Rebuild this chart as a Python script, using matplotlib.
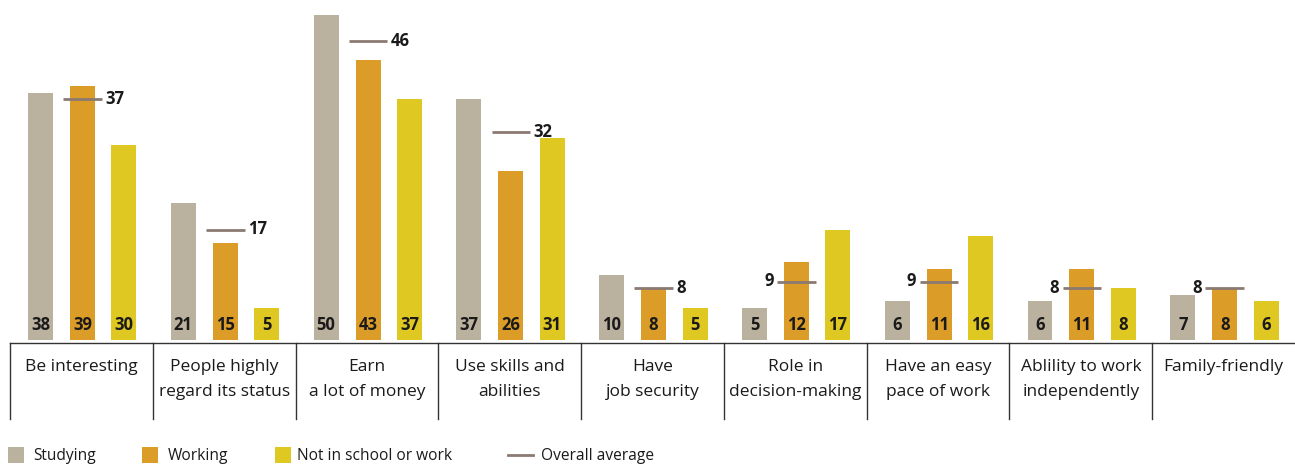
import matplotlib.pyplot as plt
from matplotlib.patches import Rectangle
from matplotlib.lines import Line2D

plt.rcParams["font.family"] = ["Open Sans", "DejaVu Sans"]

categories = [
    "Be interesting",
    "People highly\nregard its status",
    "Earn\na lot of money",
    "Use skills and\nabilities",
    "Have\njob security",
    "Role in\ndecision-making",
    "Have an easy\npace of work",
    "Ablility to work\nindependently",
    "Family-friendly",
]
studying = [38, 21, 50, 37, 10, 5, 6, 6, 7]
working = [39, 15, 43, 26, 8, 12, 11, 11, 8]
not_in_school = [30, 5, 37, 31, 5, 17, 16, 8, 6]
overall = [37, 17, 46, 32, 8, 9, 9, 8, 8]

series = [
    ("Studying", studying, "#bbb19f", -0.286),
    ("Working", working, "#dc9c28", 0.008),
    ("Not in school or work", not_in_school, "#dfc821", 0.298),
]
AVG_COLOR = "#8b7a72"
TEXT = "#1a1a1a"

W, H = 1295, 466
fig = plt.figure(figsize=(W / 100, H / 100), dpi=100)

# bar area: baseline at y=340 px, 6.5 px per unit
ax = fig.add_axes([10 / W, (H - 340) / H, (W - 10) / W, 340 / H])
ax.set_xlim(0, len(categories))
ax.set_ylim(0, 340 / 6.5)
ax.axis("off")

bw = 0.175
for name, vals, color, off in series:
    for i, v in enumerate(vals):
        x = i + 0.5 + off
        ax.bar(x, v, width=bw, color=color, linewidth=0)
        ax.annotate(str(v), (x, 0), xytext=(0, 7.5), textcoords="offset points",
                    ha="center", va="baseline", fontsize=12, fontweight="bold",
                    color=TEXT)

# overall average markers
half = 0.135
for i, v in enumerate(overall):
    xc = i + 0.5 + 0.008
    ax.plot([xc - half, xc + half], [v, v], color=AVG_COLOR, lw=2.0,
            solid_capstyle="butt")
    if i < 5:
        ax.annotate(str(v), (xc + half, v), xytext=(2.5, 0), textcoords="offset points",
                    ha="left", va="center", fontsize=12, fontweight="bold", color=TEXT)
    else:
        ax.annotate(str(v), (xc - half, v), xytext=(-2.5, 0), textcoords="offset points",
                    ha="right", va="center", fontsize=12, fontweight="bold", color=TEXT)

# category table below the bars
tab = fig.add_axes([10 / W, (H - 419) / H, (W - 10) / W, (419 - 342.5) / H])
tab.set_xlim(0, len(categories))
tab.set_ylim(0, 1)
tab.axis("off")
tab.plot([0, len(categories)], [1, 1], color="#333333", lw=1.0, clip_on=False)
for i in range(len(categories)):
    tab.plot([i, i], [0, 1], color="#333333", lw=1.0, clip_on=False)
for i, lab in enumerate(categories):
    tab.text(i + 0.5, 0.79, lab, ha="center", va="top", fontsize=12.5,
             linespacing=1.75, color=TEXT)

# legend row
leg_y = (H - 455) / H
entries = [("patch", 8, 33, series[0][2], "Studying"),
           ("patch", 142, 168, series[1][2], "Working"),
           ("patch", 275, 297, series[2][2], "Not in school or work"),
           ("line", 508, 541, AVG_COLOR, "Overall average")]
for kind, hx, tx, color, label in entries:
    if kind == "patch":
        fig.patches.append(Rectangle((hx / W, (H - 463) / H), 16 / W, 16 / H,
                                     transform=fig.transFigure, color=color, lw=0))
    else:
        fig.lines.append(Line2D([hx / W, (hx + 25) / W], [leg_y, leg_y],
                                transform=fig.transFigure, color=color, lw=2.0))
    fig.text(tx / W, leg_y - 1 / H, label, ha="left", va="center", fontsize=11.2,
             color=TEXT)

fig.savefig("out.png", dpi=100)
